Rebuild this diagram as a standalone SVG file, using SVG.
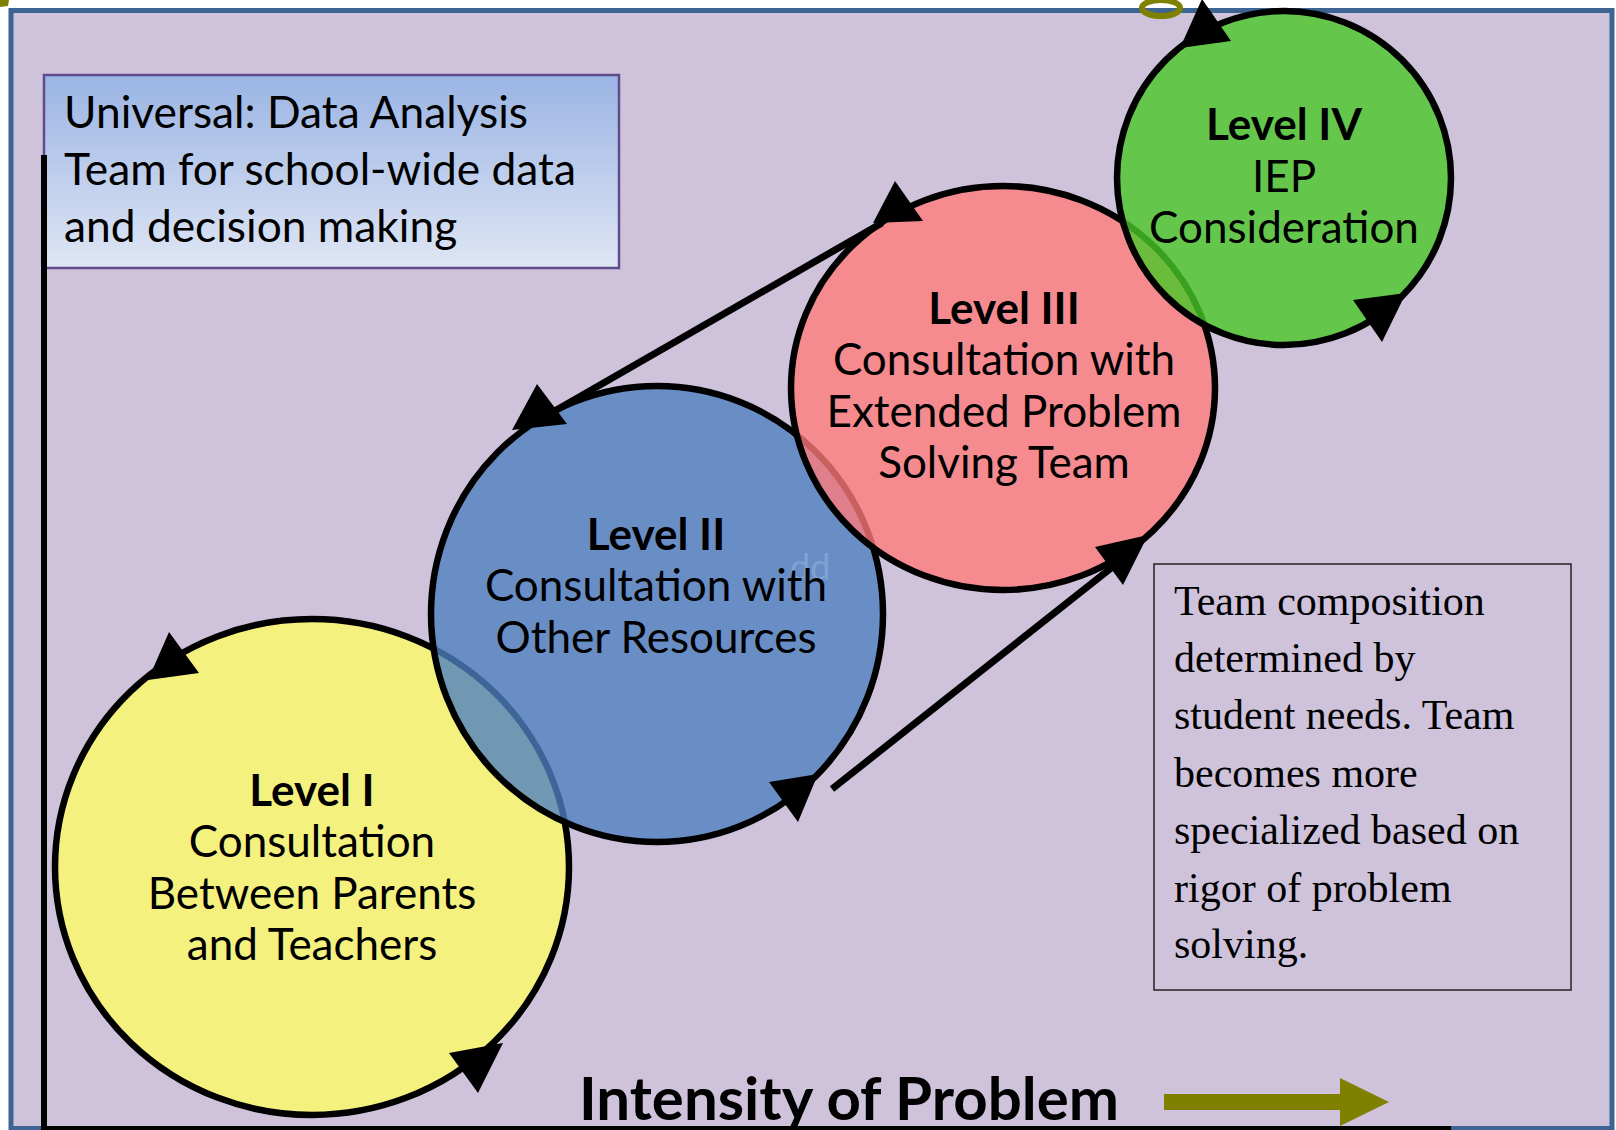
<svg xmlns="http://www.w3.org/2000/svg" width="1616" height="1130" viewBox="0 0 1616 1130">
<defs>
<linearGradient id="gBox" x1="0" y1="0" x2="0" y2="1">
<stop offset="0" stop-color="#9ab4e4"/>
<stop offset="1" stop-color="#dfe6f4"/>
</linearGradient>
<style>
.ring{stroke:#000;stroke-width:6.5}
.ah{fill:#000}
.t{font-family:Lato,"Open Sans",sans-serif;font-size:44px;fill:#000;text-anchor:middle}
.b{font-weight:700}
.conn{stroke:#000;stroke-width:7;fill:none}
.axis{stroke:#000;stroke-width:6;fill:none}
.olive{fill:#808000}
</style>
</defs>
<rect x="0" y="0" width="1616" height="1130" fill="#ffffff"/>
<g id="frame">
<rect x="11" y="10.5" width="1601" height="1118" fill="#cfc3dc" stroke="#3e6494" stroke-width="5"/>
<polygon class="olive" points="0,0 9,0 8,6 0,7"/>
<ellipse cx="1161" cy="8" rx="19" ry="8" fill="none" stroke="#808000" stroke-width="6"/>
</g>
<g id="universal">
<rect x="44" y="75" width="575" height="193" fill="url(#gBox)" stroke="#604c8c" stroke-width="2.5"/>
<text font-family="Lato,'Open Sans',sans-serif" font-size="44.3" fill="#000">
<tspan x="64" y="128">Universal: Data Analysis</tspan>
<tspan x="64" y="185">Team for school-wide data</tspan>
<tspan x="64" y="242">and decision making</tspan>
</text>
</g>
<g id="axes">
<line class="axis" x1="44" y1="155" x2="44" y2="1130"/>
<line class="axis" x1="41" y1="1129" x2="1451" y2="1129"/>
</g>
<g id="level1">
<ellipse class="ring" cx="312" cy="867" rx="257" ry="248" fill="#f4f17f"/>
<polygon class="ah" points="169,632 148,680 199,673"/>
<polygon class="ah" points="449,1053 503,1043 478,1093"/>
<text class="t"><tspan class="b" x="312" y="806">Level I</tspan><tspan x="312" y="857">Consultation</tspan><tspan x="312" y="909">Between Parents</tspan><tspan x="312" y="960">and Teachers</tspan></text>
</g>
<g id="level2">
<ellipse class="ring" cx="657" cy="614" rx="226" ry="228" fill="#4d80c0" fill-opacity="0.79"/>
<polygon class="ah" points="537,384 512,430 567,424"/>
<polygon class="ah" points="769,782 818,774 798,822"/>
<text x="790" y="580" font-family="Lato,sans-serif" font-size="36" fill="#8fb0dc" fill-opacity="0.6">dd</text>
<text class="t"><tspan class="b" x="656" y="550">Level II</tspan><tspan x="656" y="601">Consultation with</tspan><tspan x="656" y="653">Other Resources</tspan></text>
</g>
<g id="level3">
<ellipse class="ring" cx="1003" cy="388" rx="212" ry="202" fill="#ff7b7a" fill-opacity="0.78"/>
<polygon class="ah" points="895,181 873,223 923,221"/>
<polygon class="ah" points="1095,547 1148,535 1123,585"/>
<text class="t"><tspan class="b" x="1004" y="324">Level III</tspan><tspan x="1004" y="375">Consultation with</tspan><tspan x="1004" y="427">Extended Problem</tspan><tspan x="1004" y="478">Solving Team</tspan></text>
</g>
<g id="level4">
<ellipse class="ring" cx="1284" cy="178" rx="167" ry="167" fill="#48c828" fill-opacity="0.8"/>
<polygon class="ah" points="1202,-1 1180,48 1231,41"/>
<polygon class="ah" points="1353,300 1406,293 1382,342"/>
<text class="t"><tspan class="b" x="1284" y="140">Level IV</tspan><tspan x="1284" y="192">IEP</tspan><tspan x="1284" y="243">Consideration</tspan></text>
</g>
<g id="connectors">
<line class="conn" x1="553" y1="412" x2="882" y2="223"/>
<line class="conn" x1="832" y1="789" x2="1120" y2="561"/>
</g>
<g id="note">
<rect x="1154" y="564" width="417" height="426" fill="none" stroke="#222" stroke-width="1.5"/>
<text font-family="'Liberation Serif',serif" font-size="42" fill="#000">
<tspan x="1174" y="615">Team composition</tspan>
<tspan x="1174" y="672">determined by</tspan>
<tspan x="1174" y="729">student needs. Team</tspan>
<tspan x="1174" y="787">becomes more</tspan>
<tspan x="1174" y="844">specialized based on</tspan>
<tspan x="1174" y="902">rigor of problem</tspan>
<tspan x="1174" y="958">solving.</tspan>
</text>
</g>
<g id="xlabel">
<text x="579" y="1120" font-family="Lato,'Open Sans',sans-serif" font-size="60" font-weight="700" fill="#000">Intensity of Problem</text>
<polygon class="olive" points="1164,1094 1340,1094 1340,1078 1389,1102 1340,1126 1340,1110 1164,1110"/>
</g>
</svg>
